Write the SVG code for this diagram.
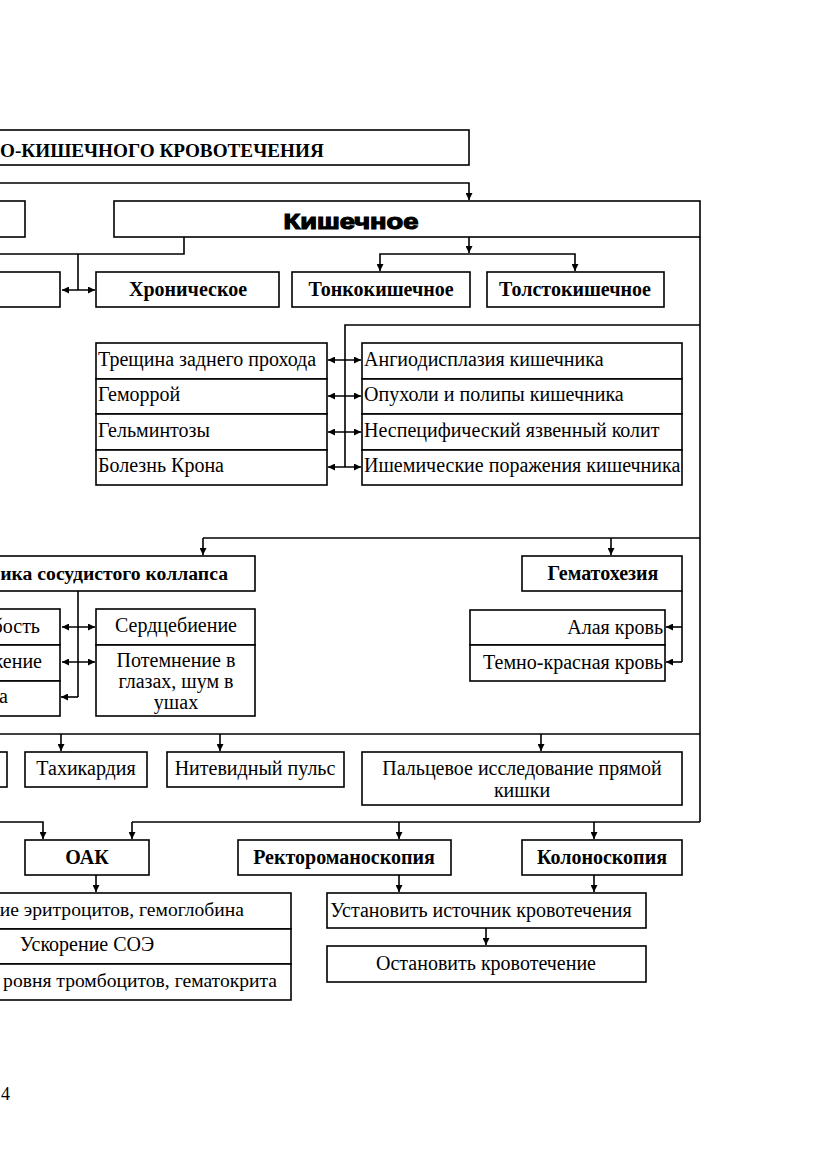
<svg xmlns="http://www.w3.org/2000/svg" width="831" height="1174" viewBox="0 0 831 1174">
<style>
.b{fill:#fff;stroke:#000;stroke-width:1.6}
.c{fill:none;stroke:#000;stroke-width:1.6}
.t{font-family:"Liberation Serif","Times New Roman",serif;font-size:20px;fill:#000}
.tb{font-family:"Liberation Serif","Times New Roman",serif;font-size:20px;font-weight:bold;fill:#000}
.m{text-anchor:middle}
.e{text-anchor:end}
.ar{marker-end:url(#ah)}
.da{marker-start:url(#ah);marker-end:url(#ah)}
</style>
<defs>
<marker id="ah" markerUnits="userSpaceOnUse" markerWidth="8" markerHeight="7" refX="7" refY="3.5" orient="auto-start-reverse">
<path d="M0,0 L7,3.5 L0,7 z" fill="#000"/>
</marker>
</defs>
<rect width="831" height="1174" fill="#fff"/>

<g id="connectors">
<path class="c ar" d="M0,183 H469 V200"/>
<path class="c" d="M184,237 V254 H0"/>
<path class="c" d="M78,254 V290"/>
<path class="c da" d="M62,290 H95"/>
<path class="c ar" d="M469,237 V253"/>
<path class="c da" d="M380,271 V254 H575 V271"/>
<path class="c" d="M700,237 V822"/>
<path class="c" d="M700,325 H345 V467"/>
<path class="c da" d="M328,360 H361"/>
<path class="c da" d="M328,396 H361"/>
<path class="c da" d="M328,432 H361"/>
<path class="c da" d="M328,467 H361"/>
<path class="c" d="M700,538 H203"/>
<path class="c ar" d="M203,538 V555"/>
<path class="c ar" d="M611,538 V555"/>
<path class="c" d="M78,591 V697"/>
<path class="c ar" d="M78,697 H61"/>
<path class="c da" d="M62,627 H95"/>
<path class="c da" d="M62,662 H95"/>
<path class="c" d="M682,591 V662"/>
<path class="c ar" d="M682,627 H666"/>
<path class="c ar" d="M682,662 H666"/>
<path class="c" d="M700,734 H0"/>
<path class="c ar" d="M61,734 V751"/>
<path class="c ar" d="M220,734 V751"/>
<path class="c ar" d="M541,734 V751"/>
<path class="c" d="M700,822 H132"/>
<path class="c ar" d="M132,822 V839"/>
<path class="c ar" d="M399,822 V839"/>
<path class="c ar" d="M594,822 V839"/>
<path class="c ar" d="M0,822 H43 V839"/>
<path class="c ar" d="M96,875 V892"/>
<path class="c ar" d="M399,875 V892"/>
<path class="c ar" d="M594,875 V892"/>
<path class="c ar" d="M486,928 V945"/>
</g>

<g id="title">
<rect class="b" x="-10" y="130" width="479" height="35"/>
<text class="tb" x="0" y="157" style="font-size:19.2px">О-КИШЕЧНОГО КРОВОТЕЧЕНИЯ</text>
</g>

<g id="left-top">
<rect class="b" x="-10" y="201" width="35" height="36"/>
</g>

<g id="kishechnoe">
<rect class="b" x="114" y="201" width="586" height="36"/>
<text x="351" y="229" text-anchor="middle" font-family="'Liberation Sans',Arial,sans-serif" font-size="22" font-weight="bold" stroke="#000" stroke-width="1.2" textLength="135" lengthAdjust="spacingAndGlyphs">Кишечное</text>
</g>

<g id="left-row2">
<rect class="b" x="-10" y="272" width="70" height="35"/>
</g>

<g id="chronic">
<rect class="b" x="96" y="272" width="183" height="35"/>
<text class="tb m" x="188" y="296">Хроническое</text>
</g>

<g id="tonko">
<rect class="b" x="292" y="272" width="178" height="35"/>
<text class="tb m" x="381" y="296">Тонкокишечное</text>
</g>

<g id="tolsto">
<rect class="b" x="487" y="272" width="177" height="35"/>
<text class="tb m" x="575" y="296">Толстокишечное</text>
</g>

<g id="tonko-list">
<rect class="b" x="96" y="343" width="231" height="36"/>
<rect class="b" x="96" y="379" width="231" height="35"/>
<rect class="b" x="96" y="414" width="231" height="36"/>
<rect class="b" x="96" y="450" width="231" height="35"/>
<text class="t" x="98" y="366">Трещина заднего прохода</text>
<text class="t" x="98" y="401">Геморрой</text>
<text class="t" x="98" y="437">Гельминтозы</text>
<text class="t" x="98" y="472">Болезнь Крона</text>
</g>

<g id="tolsto-list">
<rect class="b" x="362" y="343" width="320" height="36"/>
<rect class="b" x="362" y="379" width="320" height="35"/>
<rect class="b" x="362" y="414" width="320" height="36"/>
<rect class="b" x="362" y="450" width="320" height="35"/>
<text class="t" x="364" y="366">Ангиодисплазия кишечника</text>
<text class="t" x="364" y="401">Опухоли и полипы кишечника</text>
<text class="t" x="364" y="437">Неспецифический язвенный колит</text>
<text class="t" x="364" y="472">Ишемические поражения кишечника</text>
</g>

<g id="collapse">
<rect class="b" x="-10" y="556" width="265" height="35"/>
<text class="tb e" x="228" y="580" style="font-size:19.7px">ика сосудистого коллапса</text>
</g>

<g id="hematochezia">
<rect class="b" x="522" y="556" width="160" height="35"/>
<text class="tb m" x="603" y="580">Гематохезия</text>
</g>

<g id="collapse-left">
<rect class="b" x="-10" y="609" width="70" height="36"/>
<rect class="b" x="-10" y="645" width="70" height="36"/>
<rect class="b" x="-10" y="681" width="70" height="35"/>
<text class="t e" x="40" y="633">бость</text>
<text class="t e" x="42" y="668">жение</text>
<text class="t" x="-1" y="703">а</text>
</g>

<g id="collapse-right">
<rect class="b" x="96" y="609" width="159" height="36"/>
<rect class="b" x="96" y="645" width="159" height="71"/>
<text class="t m" x="176" y="632">Сердцебиение</text>
<text class="t m" x="176" y="667">Потемнение в</text>
<text class="t m" x="176" y="688">глазах, шум в</text>
<text class="t m" x="176" y="709">ушах</text>
</g>

<g id="blood">
<rect class="b" x="470" y="610" width="195" height="35"/>
<rect class="b" x="470" y="645" width="195" height="36"/>
<text class="t e" x="663" y="634">Алая кровь</text>
<text class="t e" x="663" y="669">Темно-красная кровь</text>
</g>

<g id="left-row5">
<rect class="b" x="-10" y="752" width="17" height="35"/>
</g>

<g id="tachy">
<rect class="b" x="25" y="752" width="122" height="35"/>
<text class="t m" x="86" y="775">Тахикардия</text>
</g>

<g id="pulse">
<rect class="b" x="167" y="752" width="177" height="35"/>
<text class="t m" x="255" y="775">Нитевидный пульс</text>
</g>

<g id="digital">
<rect class="b" x="362" y="752" width="320" height="53"/>
<text class="t m" x="522" y="775">Пальцевое исследование прямой</text>
<text class="t m" x="522" y="797">кишки</text>
</g>

<g id="oak">
<rect class="b" x="25" y="840" width="124" height="35"/>
<text class="tb m" x="87" y="864">ОАК</text>
</g>

<g id="rrs">
<rect class="b" x="238" y="840" width="213" height="35"/>
<text class="tb m" x="344" y="864">Ректороманоскопия</text>
</g>

<g id="colono">
<rect class="b" x="522" y="840" width="160" height="35"/>
<text class="tb m" x="602" y="864">Колоноскопия</text>
</g>

<g id="oak-results">
<rect class="b" x="-10" y="893" width="301" height="36"/>
<rect class="b" x="-10" y="929" width="301" height="35"/>
<rect class="b" x="-10" y="964" width="301" height="36"/>
<text class="t e" x="244" y="916" style="font-size:19.6px">ие эритроцитов, гемоглобина</text>
<text class="t m" x="87" y="951">Ускорение СОЭ</text>
<text class="t e" x="277" y="987" style="font-size:19.6px">ровня тромбоцитов, гематокрита</text>
</g>

<g id="source">
<rect class="b" x="327" y="893" width="319" height="35"/>
<text class="t m" x="481" y="917">Установить источник кровотечения</text>
</g>

<g id="stop">
<rect class="b" x="327" y="946" width="319" height="36"/>
<text class="t m" x="486" y="970">Остановить кровотечение</text>
</g>

<g id="page">
<text class="t" x="1" y="1100" style="font-size:18px">4</text>
</g>
</svg>
